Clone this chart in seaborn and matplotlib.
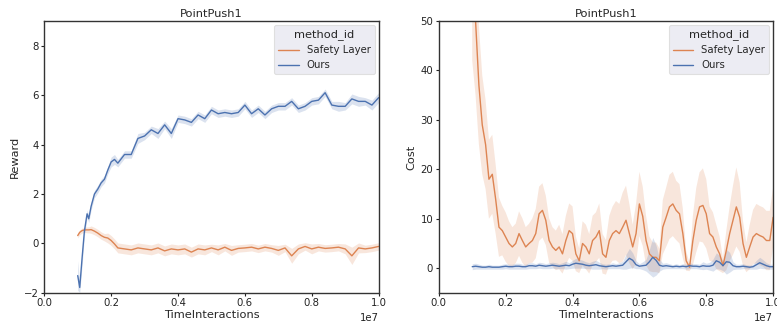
import numpy as np
import pandas as pd
import matplotlib
matplotlib.use("Agg")
import matplotlib.pyplot as plt
import seaborn as sns

methods = ["Safety Layer", "Ours"]
env_title = "PointPush1"

# ---- Reward panel (x in units of 1e7 interactions) ----
reward_steps = [0.100, 0.106, 0.113, 0.120, 0.128, 0.133, 0.140, 0.150, 0.160, 0.170,
                0.180, 0.190, 0.200, 0.210, 0.220,
                0.24, 0.26, 0.28, 0.30, 0.32, 0.34, 0.36, 0.38, 0.40, 0.42,
                0.44, 0.46, 0.48, 0.50, 0.52, 0.54, 0.56, 0.58, 0.60, 0.62,
                0.64, 0.66, 0.68, 0.70, 0.72, 0.74, 0.76, 0.78, 0.80, 0.82,
                0.84, 0.86, 0.88, 0.90, 0.92, 0.94, 0.96, 0.98, 1.00]
reward_ours = [-1.3, -1.78, -0.6, 0.5, 1.2, 1.0, 1.5, 2.0, 2.2, 2.45,
               2.6, 2.97, 3.3, 3.4, 3.25,
               3.6, 3.6, 4.25, 4.35, 4.6, 4.45, 4.8, 4.45, 5.05, 5.0,
               4.9, 5.2, 5.05, 5.4, 5.25, 5.3, 5.25, 5.3, 5.6, 5.25,
               5.45, 5.2, 5.45, 5.55, 5.55, 5.75, 5.45, 5.55, 5.75, 5.8,
               6.1, 5.6, 5.55, 5.55, 5.85, 5.75, 5.75, 5.6, 5.9]
reward_ours_err = [0.6, 0.2, 0.3, 0.2, 0.15, 0.15, 0.15, 0.15, 0.15, 0.15,
                   0.15, 0.15, 0.2, 0.2, 0.15,
                   0.15, 0.15, 0.2, 0.15, 0.15, 0.2, 0.15, 0.2, 0.15, 0.15,
                   0.15, 0.15, 0.15, 0.15, 0.15, 0.15, 0.15, 0.15, 0.15, 0.15,
                   0.15, 0.15, 0.15, 0.15, 0.15, 0.15, 0.15, 0.15, 0.15, 0.15,
                   0.15, 0.15, 0.2, 0.15, 0.2, 0.2, 0.15, 0.2, 0.2]
reward_safety = [0.32, 0.45, 0.52, 0.55, 0.55, 0.55, 0.56, 0.5, 0.42, 0.32,
                 0.25, 0.22, 0.12, -0.02, -0.18,
                 -0.22, -0.26, -0.18, -0.22, -0.26, -0.18, -0.30, -0.22, -0.26, -0.22,
                 -0.35, -0.22, -0.26, -0.18, -0.26, -0.15, -0.28, -0.20, -0.18, -0.15,
                 -0.22, -0.15, -0.20, -0.28, -0.18, -0.50, -0.22, -0.12, -0.22, -0.15,
                 -0.20, -0.18, -0.15, -0.22, -0.50, -0.18, -0.22, -0.18, -0.12]
reward_safety_err = [0.1, 0.1, 0.1, 0.1, 0.12, 0.12, 0.15, 0.15, 0.15, 0.15,
                     0.15, 0.2, 0.2, 0.2, 0.2,
                     0.2, 0.2, 0.2, 0.2, 0.2, 0.2, 0.2, 0.2, 0.2, 0.2,
                     0.2, 0.2, 0.2, 0.15, 0.2, 0.15, 0.2, 0.15, 0.15, 0.15,
                     0.15, 0.15, 0.15, 0.2, 0.15, 0.3, 0.2, 0.15, 0.2, 0.15,
                     0.15, 0.15, 0.15, 0.2, 0.35, 0.2, 0.15, 0.15, 0.15]

# ---- Cost panel ----
cost_steps = list(np.round(np.linspace(0.10, 1.00, 91), 2))
cost_safety = [60, 50, 37, 29, 25, 18, 19, 14, 8.3, 7.6,
               6.3, 5, 4.3, 5, 7, 5.6, 4.3, 5, 5.6, 7,
               11, 11.7, 9.7, 5.6, 4.3, 3.6, 4.3, 2.9, 5.6, 7.6,
               7, 2.9, 1.5, 5, 4.3, 2.9, 5.6, 6.3, 7.6, 2.9,
               2.2, 5.6, 7, 7.6, 7, 8.3, 9.7, 7, 4.3, 7,
               13, 10.5, 5.6, 2.9, 2.2, 2.2, 1.5, 8.3, 10.3, 12.4,
               13, 11.7, 11, 7, 1.5, 0.2, 5.6, 9.7, 12.4, 12.7,
               11, 7, 6.3, 4.3, 2.9, 0.5, 3.6, 7, 9.7, 12.4,
               10.3, 5, 2.2, 4.3, 6.3, 7, 6.6, 6.3, 5.6, 5.6,
               10.3]
cost_safety_err = [18, 15, 12, 10, 9, 8, 8, 7, 6, 5,
                   5, 4.5, 4, 4, 4.5, 4.5, 4, 4, 4.5, 5,
                   5.5, 5.5, 5, 4.5, 4, 4, 4.5, 4, 5, 5.5,
                   5.5, 3.5, 2.5, 4.5, 4.5, 4, 5, 5, 5.5, 4,
                   3.5, 5, 5.5, 6, 6, 7, 7, 6, 4.5, 6,
                   6.5, 6, 5, 3.5, 3, 3, 2.5, 5.5, 6, 6.5,
                   6.5, 6, 6, 5, 2, 0.8, 5, 6.5, 7, 7.5,
                   7, 5.5, 5, 4.5, 3.5, 1.5, 4, 5.5, 7, 8,
                   7, 4.5, 3, 4.5, 5.5, 6, 6, 6, 6, 6,
                   6]
cost_ours = [0.3, 0.4, 0.3, 0.2, 0.2, 0.3, 0.2, 0.2, 0.2, 0.3,
             0.4, 0.3, 0.3, 0.4, 0.4, 0.3, 0.3, 0.5, 0.5, 0.4,
             0.6, 0.5, 0.4, 0.5, 0.6, 0.5, 0.4, 0.5, 0.6, 0.5,
             0.8, 1.0, 0.9, 0.8, 0.6, 0.5, 0.6, 0.7, 0.5, 0.4,
             0.3, 0.4, 0.5, 0.4, 0.5, 0.6, 1.3, 2.0, 1.6, 0.7,
             0.4, 0.5, 0.6, 1.3, 2.2, 1.6, 0.6, 0.4, 0.5, 0.4,
             0.3, 0.4, 0.3, 0.4, 0.3, 0.5, 0.4, 0.4, 0.3, 0.5,
             0.4, 0.4, 0.6, 1.5, 1.2, 0.5, 1.3, 1.2, 0.5, 0.3,
             0.3, 0.4, 0.3, 0.2, 0.3, 0.7, 1.1, 0.8, 0.5, 0.3,
             0.3]
cost_ours_err = [0.6, 0.6, 0.5, 0.4, 0.4, 0.5, 0.4, 0.4, 0.4, 0.5,
                 0.5, 0.5, 0.5, 0.6, 0.6, 0.5, 0.5, 0.6, 0.6, 0.5,
                 0.6, 0.6, 0.5, 0.6, 0.6, 0.6, 0.5, 0.6, 0.8, 0.6,
                 0.8, 1.0, 0.9, 0.8, 0.7, 0.6, 0.8, 0.9, 0.7, 0.5,
                 0.5, 0.5, 0.6, 0.5, 0.6, 0.8, 1.5, 2.0, 1.5, 0.8,
                 0.5, 0.8, 1.2, 2.5, 4.0, 3.0, 1.2, 0.6, 0.6, 0.5,
                 0.4, 0.5, 0.4, 0.5, 0.5, 0.6, 0.5, 0.5, 0.5, 0.8,
                 0.6, 0.8, 1.2, 1.6, 1.4, 1.0, 2.5, 2.0, 0.8, 0.5,
                 0.5, 0.5, 0.4, 0.4, 0.5, 0.9, 1.1, 0.9, 0.6, 0.5,
                 0.5]

sns.set_theme(style="ticks", context="paper")
palette = {"Safety Layer": sns.color_palette("deep")[1], "Ours": sns.color_palette("deep")[0]}

TICK_FS = 7.3
LABEL_FS = 8.2


def make_df(steps, safety, ours):
    return pd.concat([
        pd.DataFrame({"TimeInteractions": np.array(steps) * 1e7, "value": safety,
                      "method_id": "Safety Layer"}),
        pd.DataFrame({"TimeInteractions": np.array(steps) * 1e7, "value": ours,
                      "method_id": "Ours"}),
    ], ignore_index=True)


fig, axes = plt.subplots(1, 2, figsize=(7.77, 3.24), dpi=100)
fig.subplots_adjust(left=0.057, right=0.995, bottom=0.096, top=0.935, wspace=0.18)

panels = [
    (axes[0], reward_steps, reward_safety, reward_safety_err, reward_ours, reward_ours_err,
     "Reward", (-2, 9), [-2, 0, 2, 4, 6, 8]),
    (axes[1], cost_steps, cost_safety, cost_safety_err, cost_ours, cost_ours_err,
     "Cost", (-5, 50), [0, 10, 20, 30, 40, 50]),
]

for ax, steps, s_val, s_err, o_val, o_err, ylabel, ylim, yticks in panels:
    df = make_df(steps, s_val, o_val)
    x = np.array(steps) * 1e7
    for name, val, err in [("Safety Layer", s_val, s_err), ("Ours", o_val, o_err)]:
        val = np.array(val, dtype=float)
        err = np.array(err, dtype=float)
        ax.fill_between(x, val - err, val + err, color=palette[name], alpha=0.2, linewidth=0)
    sns.lineplot(data=df, x="TimeInteractions", y="value", hue="method_id",
                 hue_order=methods, palette=palette, linewidth=1.0, ax=ax, errorbar=None)
    ax.set_xlim(0, 1e7)
    ax.set_ylim(*ylim)
    ax.set_yticks(yticks)
    ax.set_ylabel(ylabel, fontsize=LABEL_FS, labelpad=3)
    ax.set_xlabel("TimeInteractions", fontsize=LABEL_FS, labelpad=1)
    ax.set_title(env_title, fontsize=LABEL_FS, pad=3)
    ax.tick_params(labelsize=TICK_FS, length=2.5, width=0.8, pad=1.5, colors="#222222")
    ax.xaxis.get_offset_text().set_fontsize(TICK_FS)
    for sp in ax.spines.values():
        sp.set_visible(True)
        sp.set_color("#333333")
        sp.set_linewidth(1.0)
    leg = ax.legend(title="method_id", loc="upper right", fontsize=TICK_FS,
                    title_fontsize=LABEL_FS, frameon=True, facecolor="#EAEAF2",
                    edgecolor="#DDDDDD", framealpha=0.9, borderaxespad=0.4)

fig.savefig("out.png", dpi=100)
